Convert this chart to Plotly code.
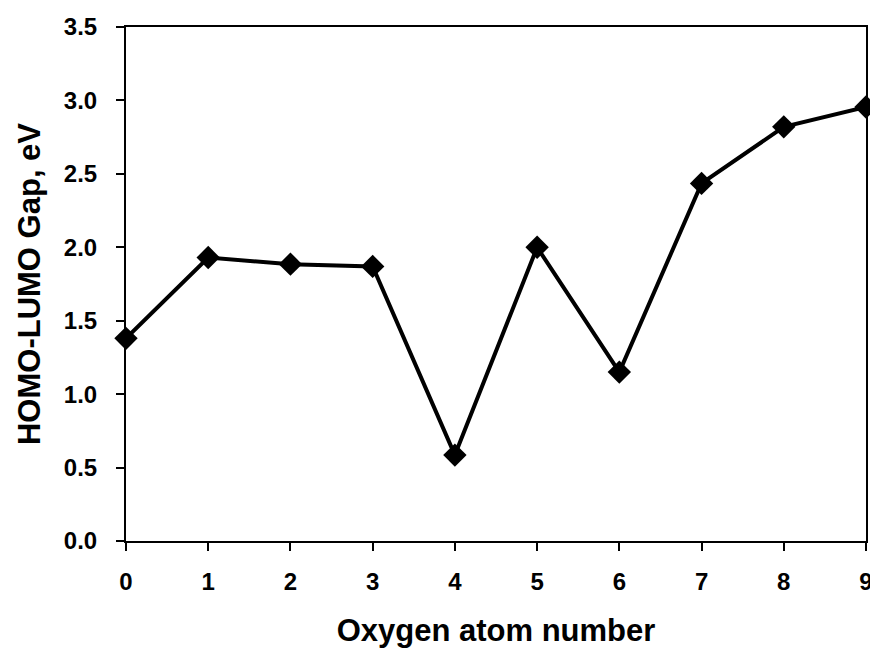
import plotly.graph_objects as go

oxygen_atoms = [0, 1, 2, 3, 4, 5, 6, 7, 8, 9]
gap_ev = [1.38, 1.93, 1.885, 1.87, 0.585, 2.00, 1.15, 2.435, 2.82, 2.955]
x_ticks = [0, 1, 2, 3, 4, 5, 6, 7, 8, 9]
y_ticks = [0.0, 0.5, 1.0, 1.5, 2.0, 2.5, 3.0, 3.5]

font_fam = "Liberation Sans, Arial, sans-serif"

fig = go.Figure(go.Scatter(
    x=oxygen_atoms, y=gap_ev, mode="lines+markers",
    line=dict(color="black", width=4),
    marker=dict(symbol="diamond", size=18, color="black"),
    cliponaxis=False,
))

fig.update_layout(
    width=870, height=651,
    margin=dict(l=126, r=4, t=27, b=110, autoexpand=False),
    paper_bgcolor="white", plot_bgcolor="white",
    showlegend=False,
    font=dict(family=font_fam, color="black"),
)
fig.update_xaxes(
    range=[0, 9], tickvals=x_ticks, ticktext=[str(v) for v in x_ticks],
    showgrid=False, zeroline=False, automargin=False,
    showline=True, linecolor="black", linewidth=2, mirror=True,
    ticks="outside", ticklen=8, tickwidth=2, tickcolor="black",
    ticklabelstandoff=10, ticklabeloverflow="allow",
    tickfont=dict(size=24, family=font_fam, weight="bold"),
    title=dict(text="<b>Oxygen atom number</b>", font=dict(size=31), standoff=26),
)
fig.update_yaxes(
    range=[0, 3.5], tickvals=y_ticks, ticktext=[f"{v:.1f}" for v in y_ticks],
    showgrid=False, zeroline=False, automargin=False,
    showline=True, linecolor="black", linewidth=2, mirror=True,
    ticks="outside", ticklen=8, tickwidth=2, tickcolor="black",
    ticklabelstandoff=14,
    tickfont=dict(size=24, family=font_fam, weight="bold"),
    title=dict(text="<b>HOMO-LUMO Gap, eV</b>", font=dict(size=31), standoff=14),
)

fig.write_html("out.html", post_script="document.body.style.margin='0';",
               config={"displayModeBar": False})
